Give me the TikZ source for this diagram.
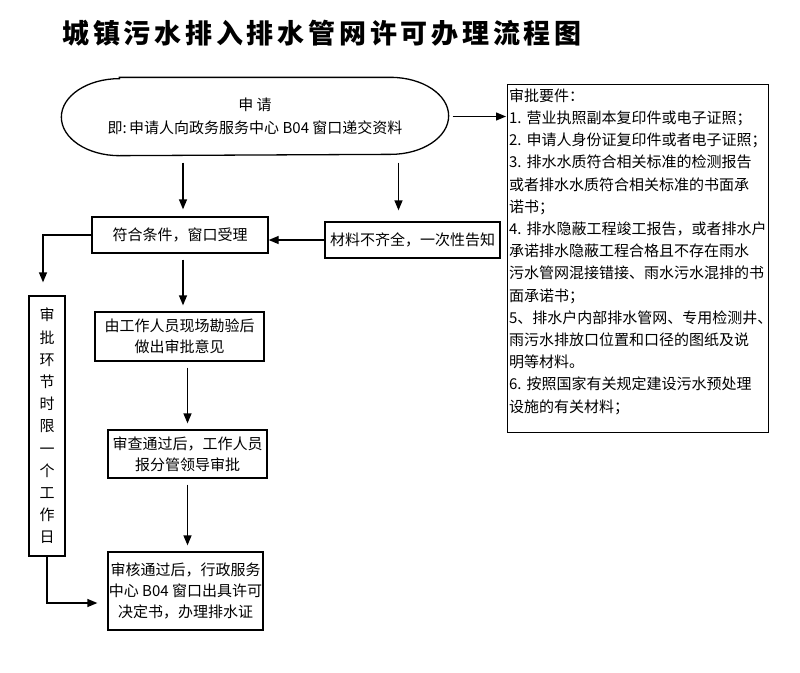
\documentclass[tikz,border=0pt]{standalone}
\usepackage{fontspec}
\newfontfamily\cjk{Noto Sans CJK SC}
\newfontfamily\titlefont[LetterSpace=14]{Noto Sans CJK SC}
\usetikzlibrary{arrows.meta}

\begin{document}
\begin{tikzpicture}[x=1pt,y=-1pt,
    box/.style={draw,line width=1.3pt,inner sep=0pt,align=center,font=\cjk\fontsize{15}{21}\selectfont},
    arr/.style={line width=1.3pt,-{Triangle[length=10pt,width=8pt]},shorten <=6pt,shorten >=6pt}]

    \useasboundingbox (0,0) rectangle (800,672);

    \node (title) at (322,33) {\titlefont\bfseries\fontsize{27}{30}\selectfont 城镇污水排入排水管网许可办理流程图};

    % application
    \node[box,draw=none,minimum width=386pt,minimum height=77pt,font=\cjk\fontsize{15}{23}\selectfont] (apply) at (255,116.5) {申\ 请\\即:\,申请人向政务服务中心 B04 窗口递交资料};
    \draw[line width=1.3pt] ([xshift=58pt]apply.north west) -- ([xshift=-58pt]apply.north east) arc[start angle=90,end angle=-90,x radius=58pt,y radius=38.5pt] -- ([xshift=58pt]apply.south west) arc[start angle=270,end angle=90,x radius=58pt,y radius=38.5pt] -- cycle;

    \node[box,anchor=north west,align=left,text width=258pt,inner xsep=1.5pt,inner ysep=4pt,font=\cjk\fontsize{15}{22.2}\selectfont] (needs) at (507,84) {审批要件：\\
    1.~营业执照副本复印件或电子证照；\\
    2.~申请人身份证复印件或者电子证照；\\
    3.~排水水质符合相关标准的检测报告\\
    或者排水水质符合相关标准的书面承\\
    诺书；\\
    4.~排水隐蔽工程竣工报告，或者排水户\\
    承诺排水隐蔽工程合格且不存在雨水\\
    污水管网混接错接、雨水污水混排的书\\
    面承诺书；\\
    5、排水户内部排水管网、专用检测井、\\
    雨污水排放口位置和口径的图纸及说\\
    明等材料。\\
    6.~按照国家有关规定建设污水预处理\\
    设施的有关材料；\par\vspace{14pt}\hrule height 0pt};

    \node[box,minimum width=176pt,minimum height=36pt] (accept) at (180,235) {符合条件，窗口受理};
    \node[box,minimum width=175pt,minimum height=36pt] (missing) at (412.5,240) {材料不齐全，一次性告知};
    \node[box,minimum width=169pt,minimum height=49pt] (survey) at (179.5,336.5) {由工作人员现场勘验后\\做出审批意见};
    \node[box,minimum width=159pt,minimum height=48pt] (review) at (187.5,454) {审查通过后，工作人员\\报分管领导审批};
    \node[box,minimum width=155pt,minimum height=78pt] (issue) at (185.5,591) {审核通过后，行政服务\\中心 B04 窗口出具许可\\决定书，办理排水证};
    \node[box,minimum width=36pt,minimum height=260pt,font=\cjk\fontsize{15}{22.2}\selectfont] (limit) at (47,426) {审\\批\\环\\节\\时\\限\\一\\个\\工\\作\\日};

    \draw[arr,shorten <=4pt,shorten >=1pt] (apply.east) -- (apply.east -| needs.west);
    \draw[arr,shorten <=7pt,shorten >=7pt] ([xshift=3pt]accept.north |- apply.south) -- ([xshift=3pt]accept.north);
    \draw[arr,shorten <=7pt,shorten >=11pt] ([xshift=-14pt]missing.north |- apply.south) -- ([xshift=-14pt]missing.north);
    \draw[arr,shorten <=0pt,shorten >=0pt] (missing.west) -- (missing.west -| accept.east);
    \draw[arr,shorten <=0pt,shorten >=13pt] (accept.west) -| ([xshift=-4pt]limit.north);
    \draw[arr] ([xshift=3pt]accept.south) -- ([xshift=3pt]accept.south |- survey.north);
    \draw[arr] (review.north |- survey.south) -- (review.north);
    \draw[arr] (review.south) -- (review.south |- issue.north);
    \draw[arr,shorten <=0pt,shorten >=10pt] (limit.south) |- ([yshift=-12pt]issue.west);
\end{tikzpicture}
\end{document}
